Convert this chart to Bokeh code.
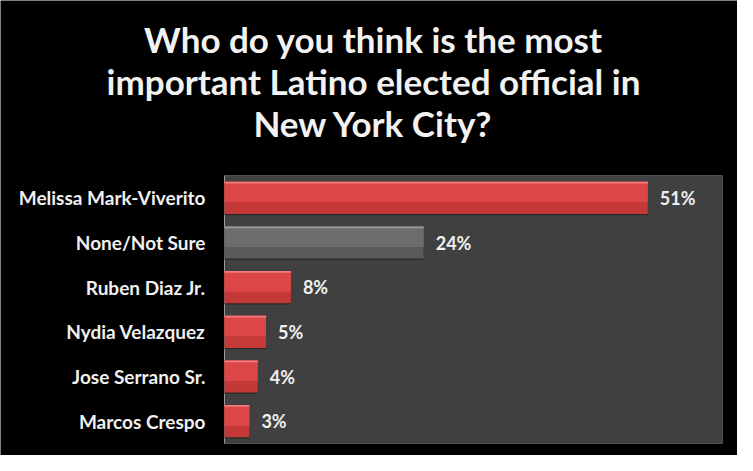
from bokeh.plotting import figure
from bokeh.models import Range1d, ColumnDataSource
from bokeh.core.properties import value
from bokeh.embed import file_html
from bokeh.resources import INLINE

# Data
categories = ["Melissa Mark-Viverito", "None/Not Sure", "Ruben Diaz Jr.",
              "Nydia Velazquez", "Jose Serrano Sr.", "Marcos Crespo"]
values = [51, 24, 8, 5, 4, 3]
labels = ["51%", "24%", "8%", "5%", "4%", "3%"]
body_colors = ["#c43838", "#5a5a5a", "#c43838", "#c43838", "#c43838", "#c43838"]
upper_colors = ["#dc4646", "#6c6c6c", "#dc4646", "#dc4646", "#dc4646", "#dc4646"]
top_colors = ["#f27c7c", "#9a9a9a", "#f27c7c", "#f27c7c", "#f27c7c", "#f27c7c"]
title_lines = ["Who do you think is the most",
               "important Latino elected official in",
               "New York City?"]
x_max = 60

FONT = "Lato"
W, H = 737, 455

# layout geometry (pixels)
plot_left, plot_right, plot_top, plot_bottom = 224, 722, 175, 443
n = len(categories)
px_per_x = (plot_right - plot_left) / x_max
px_per_row = (plot_bottom - plot_top) / n

x_range = Range1d(-plot_left / px_per_x, x_max + (W - plot_right) / px_per_x)
y_range = Range1d(n - 0.5 + (H - plot_bottom) / px_per_row,
                  -0.5 - plot_top / px_per_row)

p = figure(width=W, height=H, x_range=x_range, y_range=y_range,
           output_backend="svg", toolbar_location=None,
           min_border=0, min_border_left=0, min_border_right=0,
           min_border_top=0, min_border_bottom=0)
p.axis.visible = False
p.grid.visible = False
p.outline_line_color = None
p.background_fill_color = "black"
p.border_fill_color = "black"

rows = list(range(n))
# plot area
p.quad(left=[0], right=[x_max], top=[-0.5], bottom=[n - 0.5],
       fill_color="#404040", line_color="#505050", line_width=1)
# axis line
p.segment(x0=[0], x1=[0], y0=[-0.5], y1=[n - 0.5], line_color="#9a9a9a", line_width=1)

src = ColumnDataSource(dict(row=rows, cat=categories, v=values, lab=labels,
                            body=body_colors, upper=upper_colors, top=top_colors,
                            shadow_y=[r + 0.02 for r in rows],
                            upper_y=[r - 0.13 for r in rows],
                            top_y=[r - 0.34 for r in rows]))
p.hbar(y="shadow_y", right="v", left=0, height=0.74, source=src,
       fill_color="#2a2a2a", line_color=None)
p.hbar(y="row", right="v", left=0, height=0.72, source=src,
       fill_color="body", line_color=None)
p.hbar(y="upper_y", right="v", left=0, height=0.46, source=src,
       fill_color="upper", line_color=None)
p.hbar(y="top_y", right="v", left=0, height=0.04, source=src,
       fill_color="top", line_color=None)

# value labels
p.text(x="v", y="row", text="lab", source=src, x_offset=12,
       text_align="left", text_baseline="middle", text_color="#f0f0f0",
       text_font=value(FONT), text_font_style="bold", text_font_size="18px")
# category labels
p.text(x=0, y="row", text="cat", source=src, x_offset=-19,
       text_align="right", text_baseline="middle", text_color="#f0f0f0",
       text_font=value(FONT), text_font_style="bold", text_font_size="19px")

# title
title_x = x_range.start + 373 / px_per_x
tsrc = ColumnDataSource(dict(x=[title_x] * 3, y=[-0.5] * 3, t=title_lines,
                             off=[-137, -95, -53]))
p.text(x="x", y="y", text="t", y_offset="off", source=tsrc,
       text_align="center", text_baseline="middle", text_color="#f2f2f2",
       text_font=value(FONT), text_font_style="bold", text_font_size="35px")

open("out.html", "w").write(file_html(p, INLINE))
